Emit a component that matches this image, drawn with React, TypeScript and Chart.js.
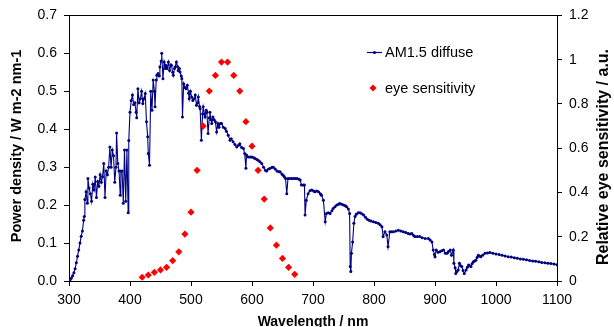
import React, { useEffect, useRef } from 'react';
import { Chart, registerables } from 'chart.js';

Chart.register(...registerables);

// ---- data ----
const wavelengths = [
  300, 302, 304, 306, 308, 310, 312, 314, 316, 318, 320, 322, 324, 325, 326, 328, 330, 331, 333, 335,
  337, 339, 341, 343, 345, 347, 349, 351, 353, 355, 357, 359, 361, 363, 365, 367, 369, 371, 373, 375,
  377, 378, 380, 382, 384, 385, 387, 389, 391, 393, 395, 397, 398, 400, 402, 404, 406, 408, 410, 411,
  413, 415, 417, 419, 421, 423, 425, 427, 429, 430, 432, 434, 436, 438, 440, 441, 443, 444, 446, 448,
  449, 451, 452, 454, 456, 458, 459, 461, 463, 465, 467, 468, 470, 471, 473, 474, 476, 478, 479, 481,
  482, 484, 485, 486, 488, 490, 492, 494, 496, 497, 499, 501, 503, 505, 507, 509, 511, 512, 514, 515,
  517, 519, 520, 522, 523, 525, 526, 528, 530, 531, 533, 534, 536, 538, 540, 542, 544, 546, 548, 550,
  553, 556, 558, 561, 564, 566, 569, 572, 575, 578, 580, 583, 586, 588, 590, 591, 594, 597, 600, 603,
  605, 608, 610, 613, 616, 619, 622, 624, 627, 630, 633, 635, 638, 641, 644, 646, 649, 651, 653, 655,
  657, 659, 662, 665, 668, 671, 674, 677, 679, 681, 684, 686, 687, 689, 692, 695, 698, 701, 703, 706,
  709, 712, 714, 717, 720, 722, 725, 728, 731, 733, 736, 739, 742, 744, 747, 750, 753, 755, 758, 760,
  761, 762, 763, 765, 767, 769, 771, 774, 777, 780, 783, 786, 789, 792, 795, 799, 803, 807, 810, 813,
  815, 818, 821, 823, 826, 829, 832, 836, 840, 844, 848, 852, 856, 859, 862, 865, 867, 871, 875, 879,
  884, 889, 892, 895, 897, 899, 900, 902, 905, 908, 911, 914, 917, 920, 922, 925, 927, 930, 931, 933,
  934, 936, 938, 940, 942, 944, 946, 948, 951, 953, 955, 957, 959, 961, 963, 965, 967, 969, 971, 973,
  975, 978, 982, 986, 990, 995, 1000, 1005, 1010, 1015, 1020, 1025, 1030, 1035, 1040, 1045, 1050, 1055,
  1060, 1065, 1070, 1075, 1080, 1085, 1090, 1095, 1100,
];

const am15Diffuse = [
  0.000, 0.004, 0.008, 0.014, 0.022, 0.032, 0.048, 0.065, 0.082, 0.100, 0.118, 0.132, 0.160, 0.170, 0.215, 0.235, 0.205, 0.270, 0.245, 0.230,
  0.210, 0.255, 0.240, 0.274, 0.220, 0.262, 0.250, 0.280, 0.260, 0.275, 0.310, 0.220, 0.290, 0.280, 0.300, 0.353, 0.300, 0.345, 0.330, 0.260,
  0.300, 0.390, 0.310, 0.290, 0.226, 0.290, 0.290, 0.205, 0.345, 0.210, 0.345, 0.180, 0.370, 0.445, 0.476, 0.490, 0.465, 0.470, 0.445, 0.430,
  0.507, 0.470, 0.480, 0.500, 0.468, 0.480, 0.494, 0.420, 0.380, 0.336, 0.305, 0.500, 0.450, 0.530, 0.500, 0.459, 0.530, 0.542, 0.547, 0.540,
  0.564, 0.580, 0.600, 0.533, 0.577, 0.560, 0.568, 0.560, 0.577, 0.555, 0.570, 0.568, 0.550, 0.542, 0.560, 0.564, 0.577, 0.565, 0.555, 0.560,
  0.551, 0.540, 0.533, 0.432, 0.520, 0.510, 0.507, 0.516, 0.495, 0.480, 0.500, 0.485, 0.476, 0.480, 0.490, 0.463, 0.470, 0.485, 0.460, 0.454,
  0.371, 0.440, 0.459, 0.440, 0.432, 0.450, 0.445, 0.389, 0.430, 0.445, 0.425, 0.415, 0.432, 0.425, 0.420, 0.393, 0.415, 0.405, 0.415, 0.415,
  0.405, 0.402, 0.395, 0.384, 0.371, 0.375, 0.367, 0.360, 0.353, 0.358, 0.362, 0.352, 0.349, 0.336, 0.297, 0.332, 0.327, 0.327, 0.327, 0.325,
  0.323, 0.320, 0.318, 0.314, 0.310, 0.300, 0.292, 0.290, 0.295, 0.297, 0.300, 0.300, 0.295, 0.290, 0.288, 0.288, 0.282, 0.279, 0.275, 0.270,
  0.230, 0.270, 0.270, 0.270, 0.270, 0.270, 0.270, 0.268, 0.266, 0.253, 0.253, 0.253, 0.174, 0.213, 0.230, 0.238, 0.240, 0.237, 0.235, 0.237,
  0.235, 0.230, 0.226, 0.213, 0.156, 0.178, 0.180, 0.178, 0.185, 0.191, 0.196, 0.200, 0.202, 0.204, 0.202, 0.200, 0.198, 0.196, 0.190, 0.178,
  0.038, 0.025, 0.073, 0.103, 0.152, 0.170, 0.176, 0.180, 0.180, 0.177, 0.174, 0.168, 0.163, 0.160, 0.158, 0.156, 0.154, 0.152, 0.148, 0.143,
  0.117, 0.130, 0.121, 0.090, 0.130, 0.130, 0.130, 0.132, 0.134, 0.132, 0.130, 0.128, 0.125, 0.124, 0.125, 0.120, 0.117, 0.117, 0.117, 0.114,
  0.112, 0.112, 0.108, 0.103, 0.082, 0.070, 0.064, 0.082, 0.076, 0.077, 0.080, 0.082, 0.073, 0.073, 0.078, 0.082, 0.068, 0.082, 0.047, 0.035,
  0.020, 0.025, 0.029, 0.047, 0.040, 0.038, 0.028, 0.020, 0.029, 0.036, 0.042, 0.040, 0.038, 0.046, 0.051, 0.053, 0.055, 0.062, 0.068, 0.066,
  0.064, 0.068, 0.073, 0.074, 0.075, 0.073, 0.071, 0.070, 0.068, 0.066, 0.064, 0.063, 0.061, 0.060, 0.058, 0.057, 0.056, 0.054,
  0.053, 0.052, 0.051, 0.049, 0.048, 0.047, 0.046, 0.045, 0.043,
];

const eyeWavelengths = [
  420, 430, 440, 450, 460, 470, 480, 490, 500, 510, 520, 530, 540,
  550, 560, 570, 580, 590, 600, 610, 620, 630, 640, 650, 660, 670,
];
const eyeSensitivity = [
  0.017, 0.027, 0.039, 0.050, 0.062, 0.092, 0.132, 0.212, 0.311, 0.500, 0.700, 0.858, 0.929,
  0.989, 0.989, 0.929, 0.858, 0.720, 0.609, 0.500, 0.370, 0.240, 0.162, 0.102, 0.062, 0.030,
];

const seriesNames = ['AM1.5 diffuse', 'eye sensitivity'];
const xTitle = 'Wavelength / nm';
const leftTitle = 'Power density / W m-2 nm-1';
const rightTitle = 'Relative eye sensitivity / a.u.';
const xTickValues = [300, 400, 500, 600, 700, 800, 900, 1000, 1100];
const leftTickLabels = ['0.0', '0.1', '0.2', '0.3', '0.4', '0.5', '0.6', '0.7'];
const rightTickLabels = ['0', '0.2', '0.4', '0.6', '0.8', '1', '1.2'];

const NAVY = '#000080';
const RED = '#FF0000';
const FONT = '"Liberation Sans", Arial, sans-serif';

const decorPlugin = {
  id: 'decor',
  afterDraw(chart: any) {
    const { ctx, chartArea } = chart;
    ctx.save();
    // top frame line
    ctx.strokeStyle = '#000';
    ctx.lineWidth = 1;
    const ty = Math.round(chartArea.top) + 0.5;
    ctx.beginPath();
    ctx.moveTo(chartArea.left, ty);
    ctx.lineTo(chartArea.right + 0.5, ty);
    ctx.stroke();

    // axis titles
    ctx.fillStyle = '#000';
    ctx.textAlign = 'center';
    ctx.textBaseline = 'middle';
    ctx.font = `bold 14px ${FONT}`;
    ctx.fillText(xTitle, (chartArea.left + chartArea.right) / 2, 322);

    ctx.save();
    ctx.translate(17, 146);
    ctx.rotate(-Math.PI / 2);
    ctx.font = `bold 14.5px ${FONT}`;
    ctx.fillText(leftTitle, 0, 0);
    ctx.restore();

    ctx.save();
    ctx.translate(604, 157);
    ctx.rotate(-Math.PI / 2);
    ctx.font = `bold 16px ${FONT}`;
    ctx.fillText(rightTitle, 0, 0);
    ctx.restore();

    // legend
    ctx.font = `14.5px ${FONT}`;
    ctx.textAlign = 'left';
    ctx.strokeStyle = NAVY;
    ctx.lineWidth = 1.2;
    ctx.beginPath();
    ctx.moveTo(367, 52.5);
    ctx.lineTo(382, 52.5);
    ctx.stroke();
    ctx.fillStyle = NAVY;
    ctx.beginPath();
    ctx.arc(374.5, 52.5, 1.6, 0, Math.PI * 2);
    ctx.fill();
    ctx.fillStyle = '#000';
    ctx.fillText(seriesNames[0], 385, 53);

    ctx.fillStyle = RED;
    ctx.beginPath();
    ctx.moveTo(369.5, 88);
    ctx.lineTo(373, 84.5);
    ctx.lineTo(376.5, 88);
    ctx.lineTo(373, 91.5);
    ctx.closePath();
    ctx.fill();
    ctx.fillStyle = '#000';
    ctx.fillText(seriesNames[1], 385, 89);
    ctx.restore();
  },
};

export default function App() {
  const canvasRef = useRef<HTMLCanvasElement | null>(null);

  useEffect(() => {
    const canvas = canvasRef.current;
    if (!canvas) return;
    const chart = new Chart(canvas, {
      type: 'scatter',
      data: {
        datasets: [
          {
            label: seriesNames[0],
            data: wavelengths.map((w, i) => ({ x: w, y: am15Diffuse[i] })),
            showLine: true,
            borderColor: NAVY,
            backgroundColor: NAVY,
            borderWidth: 1.1,
            pointRadius: 1.5,
            pointBorderWidth: 0,
            pointStyle: 'circle',
            yAxisID: 'y',
            order: 1,
          },
          {
            label: seriesNames[1],
            data: eyeWavelengths.map((w, i) => ({ x: w, y: eyeSensitivity[i] })),
            showLine: false,
            borderColor: RED,
            backgroundColor: RED,
            pointStyle: 'rectRot',
            pointRadius: 3.6,
            pointBorderWidth: 0,
            yAxisID: 'y2',
            order: 0,
          },
        ],
      },
      options: {
        responsive: false,
        animation: false,
        devicePixelRatio: 1,
        layout: { padding: { top: 15, left: 0, right: 0, bottom: 0 } },
        plugins: {
          legend: { display: false },
          tooltip: { enabled: false },
        },
        scales: {
          x: {
            type: 'linear',
            min: 300,
            max: 1100,
            afterFit: (s: any) => { s.height = 46; },
            afterBuildTicks: (s: any) => {
              s.ticks = xTickValues.map((v) => ({ value: v }));
            },
            ticks: {
              color: '#000',
              font: { family: FONT, size: 14 },
              padding: 6,
              maxRotation: 0,
              callback: (v: any) => String(v),
            },
            grid: { display: true, drawOnChartArea: false, drawTicks: true, tickLength: 5, color: '#000' },
            border: { display: true, color: '#000', width: 1 },
          },
          y: {
            type: 'linear',
            position: 'left',
            min: 0,
            max: 0.7,
            afterFit: (s: any) => { s.width = 69; },
            afterBuildTicks: (s: any) => {
              s.ticks = leftTickLabels.map((l) => ({ value: parseFloat(l) }));
            },
            ticks: {
              color: '#000',
              font: { family: FONT, size: 14 },
              padding: 7,
              callback: (_v: any, i: number) => leftTickLabels[i],
            },
            grid: { display: true, drawOnChartArea: false, drawTicks: true, tickLength: 5, color: '#000' },
            border: { display: true, color: '#000', width: 1 },
          },
          y2: {
            type: 'linear',
            position: 'right',
            min: 0,
            max: 1.2,
            afterFit: (s: any) => { s.width = 57; },
            afterBuildTicks: (s: any) => {
              s.ticks = rightTickLabels.map((l) => ({ value: parseFloat(l) }));
            },
            ticks: {
              color: '#000',
              font: { family: FONT, size: 14 },
              padding: 7,
              callback: (_v: any, i: number) => rightTickLabels[i],
            },
            grid: { display: true, drawOnChartArea: false, drawTicks: true, tickLength: 5, color: '#000' },
            border: { display: true, color: '#000', width: 1 },
          },
        },
      },
      plugins: [decorPlugin],
    });
    return () => chart.destroy();
  }, []);

  return (
    <div style={{ position: 'fixed', left: 0, top: 0, width: 614, height: 327, background: '#fff' }}>
      <canvas ref={canvasRef} width={614} height={327} style={{ width: 614, height: 327, display: 'block' }} />
    </div>
  );
}
